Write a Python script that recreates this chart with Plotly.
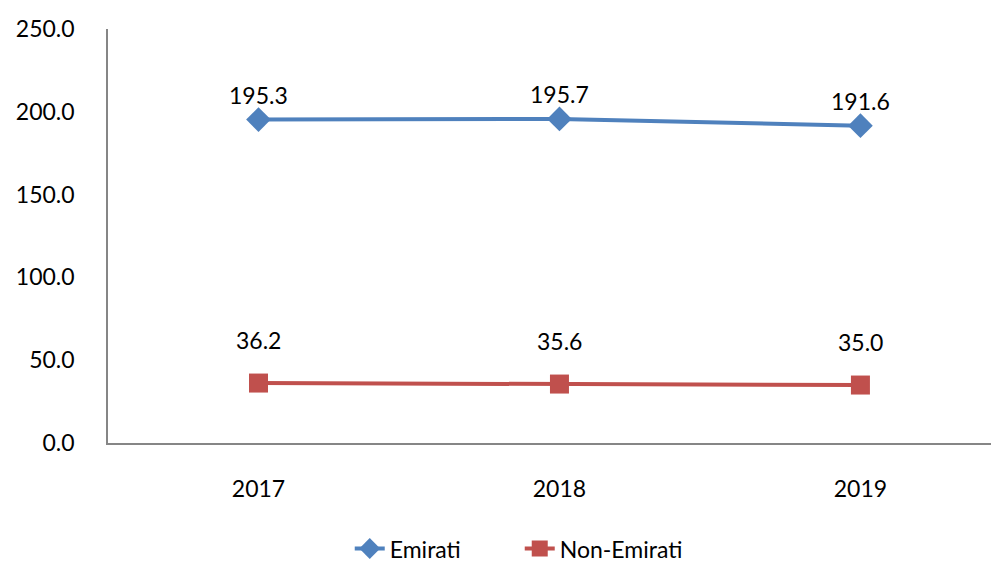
import plotly.graph_objects as go

years = ["2017", "2018", "2019"]
emirati = [195.3, 195.7, 191.6]
non_emirati = [36.2, 35.6, 35.0]
y_ticks = [0, 50, 100, 150, 200, 250]

FONT = "Lato"

fig = go.Figure()

fig.add_trace(go.Scatter(
    x=years, y=emirati, name="Emirati", mode="lines+markers",
    line=dict(color="#4F81BD", width=4),
    marker=dict(symbol="diamond", size=19, color="#4F81BD"),
))
fig.add_trace(go.Scatter(
    x=years, y=non_emirati, name="Non-Emirati", mode="lines+markers",
    line=dict(color="#C0504D", width=4),
    marker=dict(symbol="square", size=19, color="#C0504D"),
))

# data labels (red ones sit higher above their points)
for vals, shift in [(emirati, 25), (non_emirati, 43)]:
    for i, v in enumerate(vals):
        fig.add_annotation(x=i, y=v, xref="x", yref="y", text=f"{v:.1f}",
                           showarrow=False, yshift=shift,
                           font=dict(size=23, color="#000000"))

# page body adds ~8px offset, margins compensate for it
fig.update_layout(
    width=999, height=565,
    plot_bgcolor="white", paper_bgcolor="white",
    font=dict(family=FONT, size=23, color="#000000"),
    margin=dict(l=100, r=0, t=21, b=130, autoexpand=False),
    showlegend=True,
    legend=dict(orientation="h", x=0.458, xanchor="center", y=-0.255, yanchor="middle",
                font=dict(size=23), entrywidth=125),
)
fig.update_xaxes(
    type="category", range=[-0.5, 2.487], automargin=False,
    showline=True, linecolor="#868686", linewidth=1.5,
    showgrid=False, ticks="", ticklabelstandoff=25,
)
fig.update_yaxes(
    range=[0, 250], tickvals=y_ticks, tickformat=".1f", automargin=False,
    showline=True, linecolor="#868686", linewidth=1.5,
    showgrid=False, zeroline=False, ticks="", ticklabelstandoff=27,
)

fig.write_html("out.html")
